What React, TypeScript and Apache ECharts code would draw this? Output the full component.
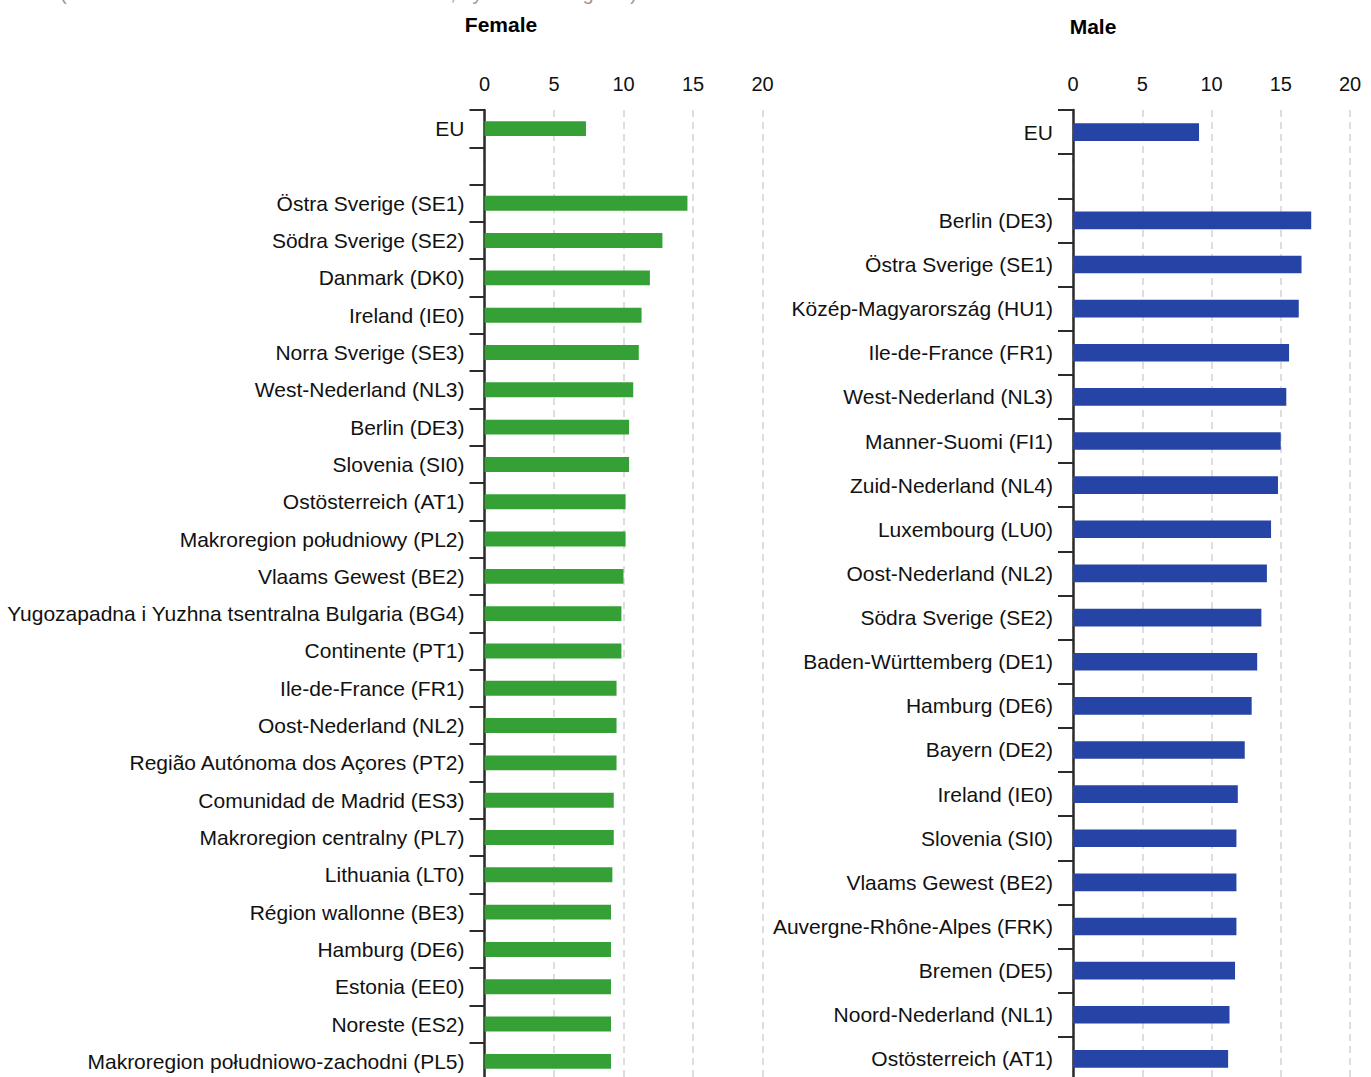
import React, { useEffect, useRef } from "react";
import * as echarts from "echarts";

const femaleCategories = [
  "EU",
  "",
  "Östra Sverige (SE1)",
  "Södra Sverige (SE2)",
  "Danmark (DK0)",
  "Ireland (IE0)",
  "Norra Sverige (SE3)",
  "West-Nederland (NL3)",
  "Berlin (DE3)",
  "Slovenia (SI0)",
  "Ostösterreich (AT1)",
  "Makroregion południowy (PL2)",
  "Vlaams Gewest (BE2)",
  "Yugozapadna i Yuzhna tsentralna Bulgaria (BG4)",
  "Continente (PT1)",
  "Ile-de-France (FR1)",
  "Oost-Nederland (NL2)",
  "Região Autónoma dos Açores (PT2)",
  "Comunidad de Madrid (ES3)",
  "Makroregion centralny (PL7)",
  "Lithuania (LT0)",
  "Région wallonne (BE3)",
  "Hamburg (DE6)",
  "Estonia (EE0)",
  "Noreste (ES2)",
  "Makroregion południowo-zachodni (PL5)",
];
const femaleValues = [
  7.3, null, 14.6, 12.8, 11.9, 11.3, 11.1, 10.7, 10.4, 10.4, 10.15, 10.15, 10.0,
  9.85, 9.85, 9.5, 9.5, 9.5, 9.3, 9.3, 9.2, 9.1, 9.1, 9.1, 9.1, 9.1,
];

const maleCategories = [
  "EU",
  "",
  "Berlin (DE3)",
  "Östra Sverige (SE1)",
  "Közép-Magyarország (HU1)",
  "Ile-de-France (FR1)",
  "West-Nederland (NL3)",
  "Manner-Suomi (FI1)",
  "Zuid-Nederland (NL4)",
  "Luxembourg (LU0)",
  "Oost-Nederland (NL2)",
  "Södra Sverige (SE2)",
  "Baden-Württemberg (DE1)",
  "Hamburg (DE6)",
  "Bayern (DE2)",
  "Ireland (IE0)",
  "Slovenia (SI0)",
  "Vlaams Gewest (BE2)",
  "Auvergne-Rhône-Alpes (FRK)",
  "Bremen (DE5)",
  "Noord-Nederland (NL1)",
  "Ostösterreich (AT1)",
];
const maleValues = [
  9.1, null, 17.2, 16.5, 16.3, 15.6, 15.4, 15.0, 14.8, 14.3, 14.0, 13.6, 13.3,
  12.9, 12.4, 11.9, 11.8, 11.8, 11.8, 11.7, 11.3, 11.2,
];

const xTicks = { min: 0, max: 20, interval: 5 };

const FONT = "'Liberation Sans', Arial, sans-serif";

export default function App() {
  const ref = useRef<HTMLDivElement>(null);

  useEffect(() => {
    document.body.style.margin = "0";
    document.body.style.overflow = "hidden";
    if (!ref.current) return;
    const chart = echarts.init(ref.current, null, { renderer: "svg" });

    const xAxisCommon = {
      type: "value" as const,
      position: "top" as const,
      min: xTicks.min,
      max: xTicks.max,
      interval: xTicks.interval,
      axisLine: { show: false },
      axisTick: { show: false },
      axisLabel: { fontSize: 20, color: "#111", fontFamily: FONT, margin: 16 },
      splitLine: {
        show: true,
        lineStyle: { color: "#d4d4d4", width: 1.5, type: [7, 5] },
      },
    };

    const yAxisCommon = {
      type: "category" as const,
      inverse: true,
      axisLine: { show: true, lineStyle: { color: "#2b2b2b", width: 2.5 } },
      axisTick: {
        show: true,
        alignWithLabel: false,
        length: 15,
        lineStyle: { color: "#2b2b2b", width: 2 },
      },
      axisLabel: { fontSize: 21, color: "#111", fontFamily: FONT, margin: 20 },
      splitLine: { show: false },
    };

    chart.setOption({
      animation: false,
      backgroundColor: "#ffffff",
      textStyle: { fontFamily: FONT },
      graphic: [
        {
          type: "text",
          x: 60,
          y: -17,
          style: {
            text: "(% of the total in the relevant reference area, by NUTS 2 regions)",
            font: `20px ${FONT}`,
            fill: "#9a9a9a",
          },
        },
        {
          type: "text",
          x: 501,
          y: 24,
          style: {
            text: "Female",
            font: `bold 21px ${FONT}`,
            fill: "#000",
            textAlign: "center",
            textVerticalAlign: "middle",
          },
        },
        {
          type: "text",
          x: 1093,
          y: 26,
          style: {
            text: "Male",
            font: `bold 21px ${FONT}`,
            fill: "#000",
            textAlign: "center",
            textVerticalAlign: "middle",
          },
        },
      ],
      grid: [
        { left: 484.5, top: 110, width: 278, height: 970 },
        { left: 1073, top: 110, width: 277, height: 971 },
      ],
      xAxis: [
        { ...xAxisCommon, gridIndex: 0 },
        { ...xAxisCommon, gridIndex: 1 },
      ],
      yAxis: [
        { ...yAxisCommon, gridIndex: 0, data: femaleCategories },
        { ...yAxisCommon, gridIndex: 1, data: maleCategories },
      ],
      series: [
        {
          type: "bar",
          name: "Female",
          xAxisIndex: 0,
          yAxisIndex: 0,
          data: femaleValues,
          barWidth: "40%",
          itemStyle: { color: "#34a036" },
        },
        {
          type: "bar",
          name: "Male",
          xAxisIndex: 1,
          yAxisIndex: 1,
          data: maleValues,
          barWidth: "40%",
          itemStyle: { color: "#2644a5" },
        },
      ],
    });

    return () => chart.dispose();
  }, []);

  return <div ref={ref} style={{ width: 1371, height: 1090 }} />;
}
